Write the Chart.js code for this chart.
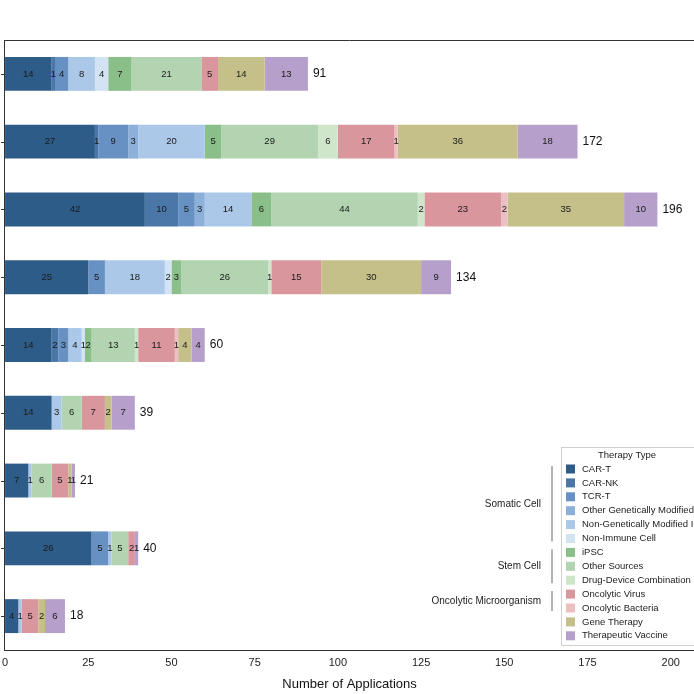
<!DOCTYPE html>
<html>
<head>
<meta charset="utf-8">
<script src="https://cdn.jsdelivr.net/npm/chart.js@4"></script>
<style>
  html, body { margin: 0; padding: 0; background: #fff; }
  #wrap { width: 694px; height: 694px; }
</style>
</head>
<body>
<div id="wrap"><canvas id="chart"></canvas></div>
<script>
// categories (the y labels are cropped off in the reference)
const categories = ["A", "B", "C", "D", "E", "F", "G", "H", "I"];

const therapyTypes = [
  "CAR-T", "CAR-NK", "TCR-T", "Other Genetically Modified", "Non-Genetically Modified Immune Cell",
  "Non-Immune Cell", "iPSC", "Other Sources", "Drug-Device Combination",
  "Oncolytic Virus", "Oncolytic Bacteria", "Gene Therapy", "Therapeutic Vaccine"
];
const typeColors = [
  "#2e5c89", "#4a76a8", "#6891c3", "#8cb0da", "#abc8e8", "#d2e3f3",
  "#8bbf89", "#b2d4b0", "#d0e6cb", "#d9969c", "#ecc0c3", "#c5bf8a", "#b6a0cb"
];

// one array per therapy type, values per category (top to bottom)
const carT        = [14, 27, 42, 25, 14, 14, 7, 26, 4];
const carNK       = [1, 1, 10, 0, 2, 0, 0, 0, 0];
const tcrT        = [4, 9, 5, 5, 3, 0, 0, 5, 0];
const otherGM     = [0, 3, 3, 0, 0, 0, 0, 0, 0];
const nonGM       = [8, 20, 14, 18, 4, 3, 1, 1, 1];
const nonImmune   = [4, 0, 0, 2, 1, 0, 0, 0, 0];
const ipsc        = [7, 5, 6, 3, 2, 0, 0, 0, 0];
const otherSrc    = [21, 29, 44, 26, 13, 6, 6, 5, 0];
const drugDevice  = [0, 6, 2, 1, 1, 0, 0, 0, 0];
const oncVirus    = [5, 17, 23, 15, 11, 7, 5, 2, 5];
const oncBacteria = [0, 1, 2, 0, 1, 0, 0, 0, 0];
const geneTherapy = [14, 36, 35, 30, 4, 2, 1, 0, 2];
const vaccine     = [13, 18, 10, 9, 4, 7, 1, 1, 6];

const seriesValues = [carT, carNK, tcrT, otherGM, nonGM, nonImmune, ipsc,
  otherSrc, drugDevice, oncVirus, oncBacteria, geneTherapy, vaccine];

const groups = [
  { name: "Somatic Cell", first: 0, last: 5 },
  { name: "Stem Cell", first: 6, last: 8 },
  { name: "Oncolytic Microorganism", first: 9, last: 10 }
];

const xTicks = [0, 25, 50, 75, 100, 125, 150, 175, 200];
const FONT = "'Liberation Sans', Arial, sans-serif";

// segment numbers and totals
const barLabels = {
  id: "barLabels",
  afterDatasetsDraw(chart) {
    const ctx = chart.ctx;
    ctx.save();
    ctx.textBaseline = "middle";
    const last = [];
    chart.data.datasets.forEach((ds, di) => {
      const meta = chart.getDatasetMeta(di);
      meta.data.forEach((el, i) => {
        const v = ds.data[i];
        if (!v) return;
        ctx.fillStyle = "#1a1a1a";
        ctx.font = "9.5px " + FONT;
        ctx.textAlign = "center";
        ctx.fillText(String(v), (el.x + el.base) / 2, el.y);
        last[i] = el;
      });
    });
    ctx.font = "12px " + FONT;
    ctx.textAlign = "left";
    ctx.fillStyle = "#111";
    categories.forEach((c, i) => {
      const total = seriesValues.reduce((s, arr) => s + arr[i], 0);
      if (last[i]) ctx.fillText(String(total), last[i].x + 5, last[i].y);
    });
    ctx.restore();
  }
};

// top frame line, left tick marks, legend box and group labels
const decorations = {
  id: "decorations",
  afterDraw(chart) {
    const ctx = chart.ctx;
    const a = chart.chartArea;
    ctx.save();
    ctx.strokeStyle = "#333";
    ctx.lineWidth = 1;
    ctx.beginPath();
    ctx.moveTo(a.left, a.top + 0.5);
    ctx.lineTo(a.right, a.top + 0.5);
    const yScale = chart.scales.y;
    categories.forEach((c, i) => {
      const y = Math.round(yScale.getPixelForValue(i)) + 0.5;
      ctx.moveTo(a.left - 4, y);
      ctx.lineTo(a.left, y);
    });
    ctx.stroke();

    const lx = 561, ly = 447, rowH = 13.9, firstRow = 469;
    ctx.fillStyle = "#fff";
    ctx.fillRect(lx, ly, 140, 198);
    ctx.strokeStyle = "#d0d0d0";
    ctx.strokeRect(lx + 0.5, ly + 0.5, 140, 198);
    ctx.fillStyle = "#222";
    ctx.font = "9.5px " + FONT;
    ctx.textBaseline = "middle";
    ctx.textAlign = "center";
    ctx.fillText("Therapy Type", 627, 455);
    ctx.textAlign = "left";
    therapyTypes.forEach((t, i) => {
      const y = firstRow + i * rowH;
      ctx.fillStyle = typeColors[i];
      ctx.fillRect(566, y - 4.5, 9, 9);
      ctx.fillStyle = "#222";
      ctx.fillText(t, 582, y);
    });

    ctx.strokeStyle = "#999";
    ctx.lineWidth = 1.5;
    ctx.font = "10px " + FONT;
    ctx.textAlign = "right";
    groups.forEach(g => {
      const y0 = firstRow + g.first * rowH - 3;
      const y1 = firstRow + g.last * rowH + 3;
      ctx.beginPath();
      ctx.moveTo(552, y0);
      ctx.lineTo(552, y1);
      ctx.stroke();
      ctx.fillStyle = "#222";
      ctx.fillText(g.name, 541, (y0 + y1) / 2);
    });
    ctx.restore();
  }
};

const datasets = therapyTypes.map((t, i) => ({
  label: t,
  data: seriesValues[i],
  backgroundColor: typeColors[i],
  borderWidth: 0,
  categoryPercentage: 1.0,
  barPercentage: 0.5
}));

new Chart(document.getElementById("chart"), {
  type: "bar",
  data: { labels: categories, datasets: datasets },
  plugins: [barLabels, decorations],
  options: {
    indexAxis: "y",
    responsive: true,
    maintainAspectRatio: false,
    animation: false,
    layout: { autoPadding: false, padding: { top: 40, right: 0, left: 0, bottom: 0 } },
    plugins: { legend: { display: false }, tooltip: { enabled: false } },
    scales: {
      x: {
        stacked: true,
        min: 0,
        max: 207,
        afterBuildTicks: axis => { axis.ticks = xTicks.map(v => ({ value: v })); },
        afterFit: axis => { axis.height = 44; },
        grid: { display: false, drawTicks: true, tickLength: 4, tickColor: "#333" },
        border: { display: true, color: "#333", width: 1 },
        ticks: { color: "#222", font: { family: FONT, size: 11 }, padding: 2, maxRotation: 0 },
        title: { display: true, text: "Number of Applications", color: "#111",
                 font: { family: FONT, size: 13 }, padding: { top: 0, bottom: 2 } }
      },
      y: {
        stacked: true,
        afterFit: axis => { axis.width = -1; },
        grid: { display: false, drawTicks: false },
        border: { display: true, color: "#333", width: 1 },
        ticks: { display: false, padding: 0 }
      }
    }
  }
});
</script>
</body>
</html>
